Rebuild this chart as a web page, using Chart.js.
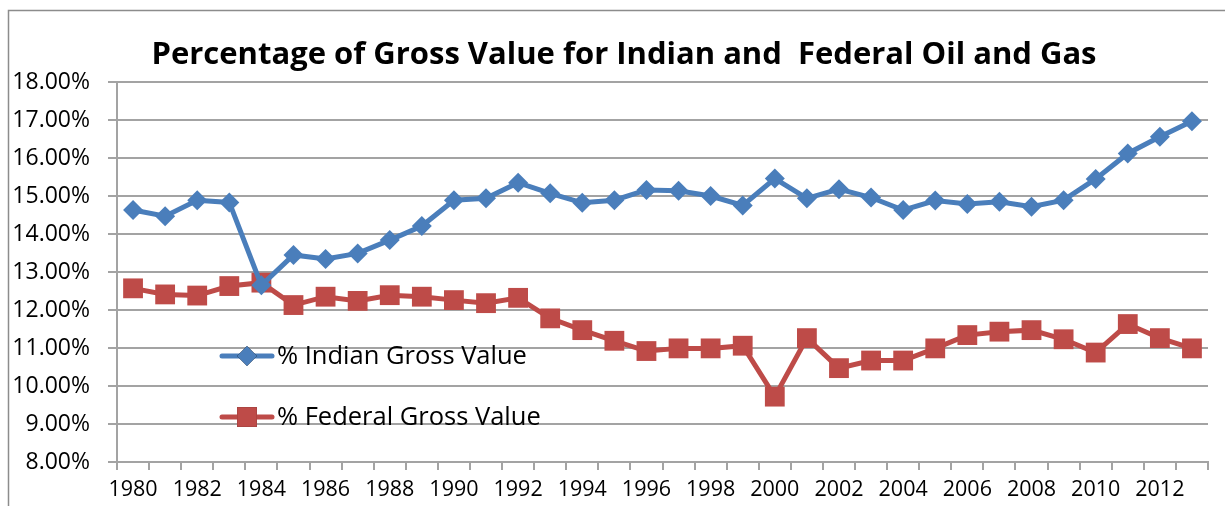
<!DOCTYPE html>
<html>
<head>
<meta charset="utf-8">
<script src="https://cdn.jsdelivr.net/npm/chart.js@4/dist/chart.umd.min.js"></script>
<style>
  html, body { margin: 0; padding: 0; background: #fff; }
  #wrap { width: 1225px; height: 506px; position: relative; }
</style>
</head>
<body>
<div id="wrap"><canvas id="c" width="1225" height="506"></canvas></div>
<script>
const years = ['1980','1981','1982','1983','1984','1985','1986','1987','1988','1989',
  '1990','1991','1992','1993','1994','1995','1996','1997','1998','1999',
  '2000','2001','2002','2003','2004','2005','2006','2007','2008','2009',
  '2010','2011','2012','2013'];
const indianPct = [14.63, 14.47, 14.89, 14.83, 12.65, 13.45, 13.34, 13.49, 13.84, 14.21,
  14.89, 14.94, 15.35, 15.07, 14.82, 14.89, 15.16, 15.14, 15.00, 14.75,
  15.46, 14.94, 15.18, 14.96, 14.63, 14.88, 14.79, 14.85, 14.72, 14.89,
  15.45, 16.12, 16.56, 16.97];
const federalPct = [12.57, 12.41, 12.38, 12.63, 12.72, 12.13, 12.35, 12.24, 12.39, 12.35,
  12.26, 12.18, 12.32, 11.78, 11.47, 11.19, 10.92, 10.99, 10.99, 11.06,
  9.72, 11.26, 10.47, 10.67, 10.67, 10.99, 11.34, 11.43, 11.47, 11.23,
  10.88, 11.63, 11.26, 10.99];
const seriesNames = ['% Indian Gross Value', '% Federal Gross Value'];
const titleText = 'Percentage of Gross Value for Indian and  Federal Oil and Gas';

const FONT = '"Open Sans", Lato, sans-serif';
const BLUE = '#4A7EBB';
const RED = '#BE4B48';
const GRID = '#a3a3a3';

const framePlugin = {
  id: 'frame',
  beforeDraw(chart) {
    const ctx = chart.ctx;
    ctx.save();
    ctx.fillStyle = '#fff';
    ctx.fillRect(0, 0, chart.width, chart.height);
    ctx.strokeStyle = '#8c8c8c';
    ctx.lineWidth = 1.5;
    ctx.strokeRect(8.5, 10.5, 1400, 700);
    ctx.restore();
  }
};

const legendPlugin = {
  id: 'innerLegend',
  afterDraw(chart) {
    const ctx = chart.ctx;
    const rows = [{ y: 356 }, { y: 417 }];
    ctx.save();
    chart.data.datasets.forEach((ds, i) => {
      const y = rows[i].y;
      ctx.strokeStyle = ds.borderColor;
      ctx.lineWidth = 5;
      ctx.lineCap = 'round';
      ctx.beginPath();
      ctx.moveTo(222, y);
      ctx.lineTo(272, y);
      ctx.stroke();
      Chart.helpers.drawPoint(ctx, {
        pointStyle: ds.pointStyle,
        radius: ds.pointRadius,
        rotation: 0,
        borderWidth: 0
      }, 247, y);
      ctx.fillStyle = ds.pointBackgroundColor;
      ctx.fill();
      ctx.fillStyle = '#000';
      ctx.font = '25.5px ' + FONT;
      ctx.textBaseline = 'middle';
      ctx.textAlign = 'left';
      ctx.fillText(ds.label, 277, y + 1);
    });
    ctx.restore();
  }
};

const titlePlugin = {
  id: 'customTitle',
  afterDraw(chart) {
    const ctx = chart.ctx;
    ctx.save();
    ctx.fillStyle = '#000';
    ctx.font = 'bold 31px ' + FONT;
    ctx.textAlign = 'center';
    ctx.textBaseline = 'middle';
    ctx.fillText(titleText, 624, 55);
    ctx.restore();
  }
};

new Chart(document.getElementById('c'), {
  type: 'line',
  data: {
    labels: years,
    datasets: [
      {
        label: seriesNames[0],
        data: indianPct,
        borderColor: BLUE,
        backgroundColor: BLUE,
        pointBackgroundColor: BLUE,
        pointBorderColor: BLUE,
        borderWidth: 5,
        pointStyle: 'rectRot',
        pointRadius: 10,
        pointBorderWidth: 0,
        tension: 0
      },
      {
        label: seriesNames[1],
        data: federalPct,
        borderColor: RED,
        backgroundColor: RED,
        pointBackgroundColor: RED,
        pointBorderColor: RED,
        borderWidth: 5,
        pointStyle: 'rect',
        pointRadius: 14,
        pointBorderWidth: 0,
        tension: 0
      }
    ]
  },
  options: {
    responsive: false,
    animation: false,
    events: [],
    layout: { padding: { left: 0, right: 17, top: 82, bottom: 0 } },
    plugins: {
      legend: { display: false },
      title: { display: false },
      tooltip: { enabled: false }
    },
    scales: {
      x: {
        offset: true,
        grid: {
          offset: true,
          drawOnChartArea: false,
          drawTicks: true,
          tickLength: 8,
          color: GRID,
          lineWidth: 2
        },
        border: { display: true, color: GRID, width: 2 },
        ticks: {
          autoSkip: false,
          maxRotation: 0,
          minRotation: 0,
          padding: 7,
          color: '#000',
          font: { family: FONT, size: 21.5 },
          callback: function (v, i) { return i % 2 === 0 ? this.getLabelForValue(v) : ''; }
        },
        afterFit(scale) { scale.height = 44; }
      },
      y: {
        min: 8,
        max: 18,
        grid: {
          color: GRID,
          lineWidth: 2,
          drawTicks: true,
          tickLength: 9
        },
        border: { display: true, color: GRID, width: 2 },
        ticks: {
          stepSize: 1,
          padding: 18,
          color: '#000',
          font: { family: FONT, size: 23 },
          callback: (v) => v.toFixed(2) + '%'
        },
        afterFit(scale) { scale.width = 117; }
      }
    }
  },
  plugins: [framePlugin, titlePlugin, legendPlugin]
});
</script>
</body>
</html>
